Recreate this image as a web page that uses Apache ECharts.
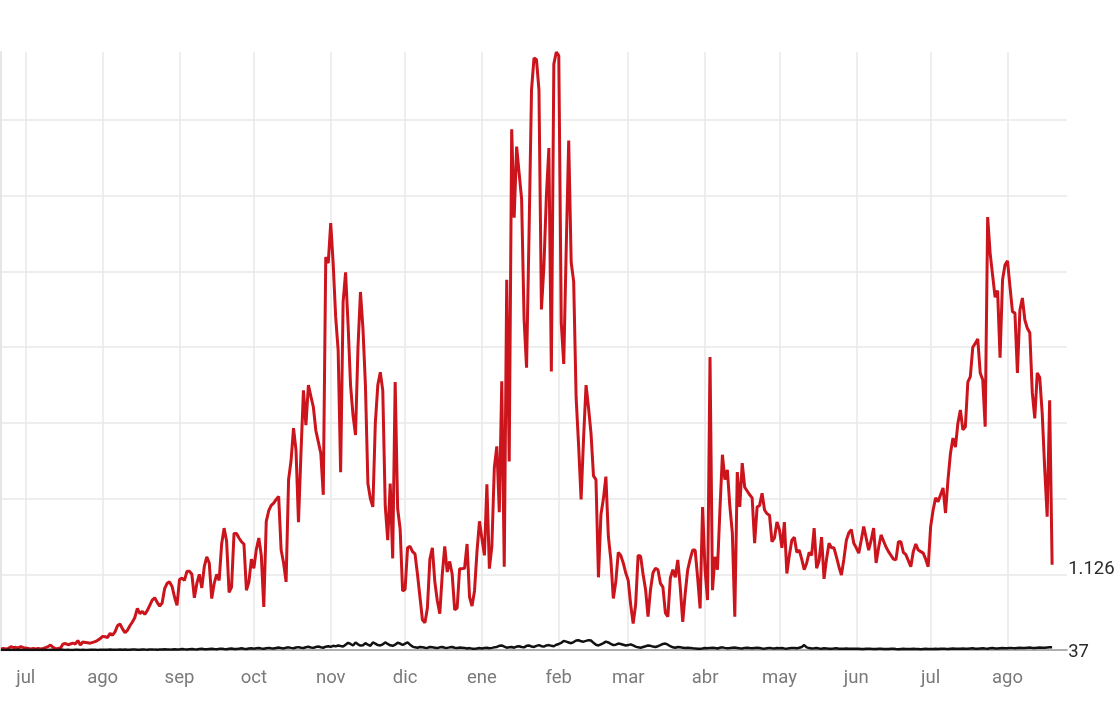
<!DOCTYPE html>
<html>
<head>
<meta charset="utf-8">
<script src="https://cdn.jsdelivr.net/npm/echarts@6/dist/echarts.min.js"></script>
<style>
  html, body { margin: 0; padding: 0; background: #ffffff; }
  #chart { width: 1116px; height: 704px; }
</style>
</head>
<body>
<div id="chart"></div>
<script>
// Daily new cases (red) and deaths (black), 21 Jun 2020 – 19 Aug 2021
const monthNames = ['ene','feb','mar','abr','may','jun','jul','ago','sep','oct','nov','dic'];
const firstDay = '2020-06-21';
const axisDays = 431; // axis runs to 2021-08-25

const cases_2020_06 = [15,20,15,20,45,30,35,25,45,30];
const cases_2020_07 = [25,20,15,20,15,20,15,20,30,45,65,35,15,20,25,80,85,70,80,90,80,125,65,105,100,95,90,100,110,130,150];
const cases_2020_08 = [180,175,165,220,195,240,320,345,280,230,260,320,370,430,550,480,510,470,520,590,660,690,630,580,620,810,880,900,840,700,590];
const cases_2020_09 = [930,950,920,1040,1040,1000,690,880,1000,820,1100,1230,1150,680,880,1000,920,1400,1610,1440,760,830,1540,1540,1480,1430,1400,790,900,1200];
const cases_2020_10 = [1080,1330,1480,1250,570,1700,1840,1910,1940,1990,2030,1320,1150,900,2250,2500,2930,2640,1690,2600,3430,2970,3500,3350,3210,2900,2750,2600,2050,5190,5110];
const cases_2020_11 = [5640,5100,4400,3960,2350,4600,4990,4300,3500,3100,2840,4000,4730,4250,3500,2200,2000,1890,3000,3500,3670,3430,1900,1450,2200,1210,3540,1870,1600,780];
const cases_2020_12 = [800,1350,1370,1300,1270,1000,700,400,360,555,1200,1350,900,650,480,1000,1370,1030,1170,1000,530,555,1075,1075,1080,1400,700,580,780,1300,1700];
const cases_2021_01 = [1470,1250,2190,1075,1370,2410,2690,1820,3550,1100,4890,2490,6880,5710,6650,6300,5960,4370,3730,5500,7400,7820,7800,7400,4500,5070,6000,6630,3680,7740,7900];
const cases_2021_02 = [7850,4320,3780,5310,6730,5120,4870,3330,2700,1990,2800,3500,3200,2860,2300,2250,960,1790,2000,2290,1500,1190,680,900,1290,1250,1150,1020];
const cases_2021_03 = [920,600,350,600,1250,1240,1000,800,440,800,1020,1080,1060,880,830,490,440,950,1060,960,1190,830,370,750,1060,1200,1320,1320,960,550,1890];
const cases_2021_04 = [1060,660,3870,790,1230,1060,1850,2580,2250,2380,1900,1550,440,2350,1890,2470,2150,2100,2050,2010,1410,1890,1910,2070,1850,1800,1780,1430,1480,1690];
const cases_2021_05 = [1590,1350,1690,1010,1250,1450,1490,1290,1320,1200,1060,1150,1290,1250,1610,1080,1180,1490,940,1200,1410,1350,1350,1230,1100,990,1200,1450,1550,1590,1410];
const cases_2021_06 = [1350,1280,1450,1630,1480,1320,1450,1610,1150,1350,1520,1440,1360,1300,1250,1200,1190,1430,1430,1290,1260,1180,1100,1300,1400,1320,1300,1280,1200,1100];
const cases_2021_07 = [1630,1850,2010,1960,2050,2140,1810,2250,2600,2800,2680,3000,3170,2910,2950,3540,3610,4000,4050,4110,3660,3570,2950,5720,5240,4950,4660,4750,3860,4890,5090];
const cases_2021_08 = [5140,4800,4470,4450,3660,4490,4650,4360,4250,4190,3400,3060,3660,3600,3130,2400,1760,3300,1126];

const deaths_2020_06 = [0,1,0,2,1,0,1,3,1,0];
const deaths_2020_07 = [2,1,0,1,2,0,1,3,1,0,2,1,1,0,2,3,1,2,0,1,2,3,1,2,1,0,2,3,2,1,3];
const deaths_2020_08 = [4,2,3,5,3,2,4,6,3,5,4,2,6,5,4,3,7,5,4,6,8,5,3,6,7,9,6,5,8,10,7];
const deaths_2020_09 = [8,12,9,7,11,14,10,8,13,15,11,9,14,16,12,10,15,18,13,11,17,20,14,12,18,22,16,13,20,24];
const deaths_2020_10 = [18,22,26,20,17,24,28,22,19,27,32,25,21,30,35,28,24,33,38,30,26,36,42,33,28,40,46,36,30,44,50];
const deaths_2020_11 = [42,55,48,60,52,45,70,95,80,60,100,75,58,62,90,70,55,100,85,65,60,75,100,80,62,55,70,95,85,66];
const deaths_2020_12 = [85,100,70,45,35,30,40,35,30,28,40,35,30,25,35,40,30,28,35,40,30,25,32,30,28,20,25,18,15,20,25];
const deaths_2021_01 = [20,25,30,22,28,35,40,55,60,45,30,35,40,30,45,50,40,35,55,60,45,40,55,65,50,45,60,65,55,50,70];
const deaths_2021_02 = [80,95,120,110,100,90,105,125,130,115,110,120,130,125,95,70,60,75,90,110,100,80,65,70,85,80,70,60];
const deaths_2021_03 = [65,75,60,45,35,30,40,50,60,55,45,40,50,65,80,85,70,50,35,30,40,35,30,25,30,28,22,20,18,15,20];
const deaths_2021_04 = [25,22,28,30,25,20,30,35,28,22,25,30,32,27,22,20,28,30,25,22,26,30,25,20,18,24,28,22,20,25];
const deaths_2021_05 = [22,25,20,18,24,28,25,22,30,40,65,35,25,20,22,25,20,18,22,20,18,15,20,22,18,15,17,20,18,15,16];
const deaths_2021_06 = [15,18,14,12,16,18,15,13,12,15,17,14,12,13,16,15,12,11,14,15,13,12,14,16,13,12,11,14,15,13];
const deaths_2021_07 = [12,14,15,13,16,18,15,14,17,19,16,15,18,20,17,16,19,22,18,17,20,23,19,18,22,25,21,20,24,26,22];
const deaths_2021_08 = [24,28,25,23,27,30,26,25,29,32,28,27,31,34,30,29,33,35,37];

const cases = [].concat(cases_2020_06, cases_2020_07, cases_2020_08, cases_2020_09, cases_2020_10,
  cases_2020_11, cases_2020_12, cases_2021_01, cases_2021_02, cases_2021_03, cases_2021_04,
  cases_2021_05, cases_2021_06, cases_2021_07, cases_2021_08);
const deaths = [].concat(deaths_2020_06, deaths_2020_07, deaths_2020_08, deaths_2020_09, deaths_2020_10,
  deaths_2020_11, deaths_2020_12, deaths_2021_01, deaths_2021_02, deaths_2021_03, deaths_2021_04,
  deaths_2021_05, deaths_2021_06, deaths_2021_07, deaths_2021_08);

const dates = [];
const t0 = Date.parse(firstDay + 'T00:00:00Z');
for (let i = 0; i < axisDays; i++) {
  dates.push(new Date(t0 + i * 86400000).toISOString().slice(0, 10));
}

const isMonthStart = (idx, val) => val.slice(8, 10) === '01';
const fmtNum = v => String(v).replace(/\B(?=(\d{3})+(?!\d))/g, '.');

const chart = echarts.init(document.getElementById('chart'), null, { renderer: 'canvas' });
chart.setOption({
  animation: false,
  backgroundColor: '#ffffff',
  grid: { left: 1, right: 49, top: 52, bottom: 54, containLabel: false },
  xAxis: {
    type: 'category',
    data: dates,
    boundaryGap: false,
    axisLine: { show: true, lineStyle: { color: '#9a9a9a', width: 1.5 } },
    axisTick: { show: false },
    axisLabel: {
      interval: isMonthStart,
      formatter: v => monthNames[parseInt(v.slice(5, 7), 10) - 1],
      color: '#7a7a7a',
      fontSize: 18.5,
      fontFamily: 'Roboto',
      margin: 19
    },
    splitLine: { show: true, interval: isMonthStart, lineStyle: { color: '#e8e8e8', width: 1.5 } }
  },
  yAxis: {
    type: 'value',
    min: 0,
    max: 7900,
    interval: 1000,
    axisLine: { show: true, lineStyle: { color: '#e6e6e6', width: 2 } },
    axisTick: { show: false },
    axisLabel: { show: false },
    splitLine: { show: true, showMaxLine: false, lineStyle: { color: '#e8e8e8', width: 1.5 } }
  },
  series: [
    {
      name: 'casos',
      type: 'line',
      data: cases,
      showSymbol: false,
      symbol: 'none',
      lineStyle: { color: '#cc141c', width: 3 },
      itemStyle: { color: '#cc141c' },
      endLabel: {
        show: true,
        distance: 16,
        offset: [0, 5],
        formatter: p => fmtNum(p.value),
        color: '#2a2a2a',
        fontSize: 18.5,
        fontFamily: 'Roboto'
      },
      z: 2
    },
    {
      name: 'fallecidos',
      type: 'line',
      data: deaths,
      showSymbol: false,
      symbol: 'none',
      lineStyle: { color: '#111111', width: 2.5 },
      itemStyle: { color: '#111111' },
      endLabel: {
        show: true,
        distance: 16,
        offset: [0, 5],
        formatter: p => fmtNum(p.value),
        color: '#2a2a2a',
        fontSize: 18.5,
        fontFamily: 'Roboto'
      },
      z: 3
    }
  ]
});
</script>
</body>
</html>
